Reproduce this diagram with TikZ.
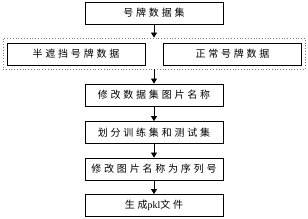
\documentclass[tikz,border=0pt]{standalone}
\usepackage{fontspec}
\setmainfont{Liberation Serif}
\newfontfamily\cjk[LetterSpace=28]{Noto Sans CJK SC}
\usetikzlibrary{arrows.meta}

\begin{document}
\begin{tikzpicture}[x=1pt,y=-1pt,
  stepbox/.style={draw,thick,minimum width=138pt,minimum height=22pt,
    inner sep=0pt,font=\cjk\fontsize{10}{12}\selectfont},
  flow/.style={thick,-{Triangle[length=5pt,width=6pt]}}]
  \useasboundingbox (0,0) rectangle (308,219);
  % main column
  \node[stepbox] (set) at (154,13) {号牌数据集};
  \node[draw,gray,dotted,thick,minimum width=302pt,minimum height=31pt,
    inner sep=0pt] (group) at (154,53.5) {};
  \node[stepbox] (half) at (76,54) {半遮挡号牌数据};
  \node[stepbox] (norm) at (232.5,54) {正常号牌数据};
  \node[stepbox] (rename) at (154,95) {修改数据集图片名称};
  \node[stepbox] (split) at (154,132.5) {划分训练集和测试集};
  \node[stepbox] (order) at (154,169) {修改图片名称为序列号};
  \node[stepbox] (pkl) at (154,205.5) {生成{\rmfamily pkl}文件};
  % arrows
  \draw[flow] (set) -- (group);
  \draw[flow] (group) -- (rename);
  \draw[flow] (rename) -- (split);
  \draw[flow] (split) -- (order);
  \draw[flow] (order) -- (pkl);
\end{tikzpicture}
\end{document}
